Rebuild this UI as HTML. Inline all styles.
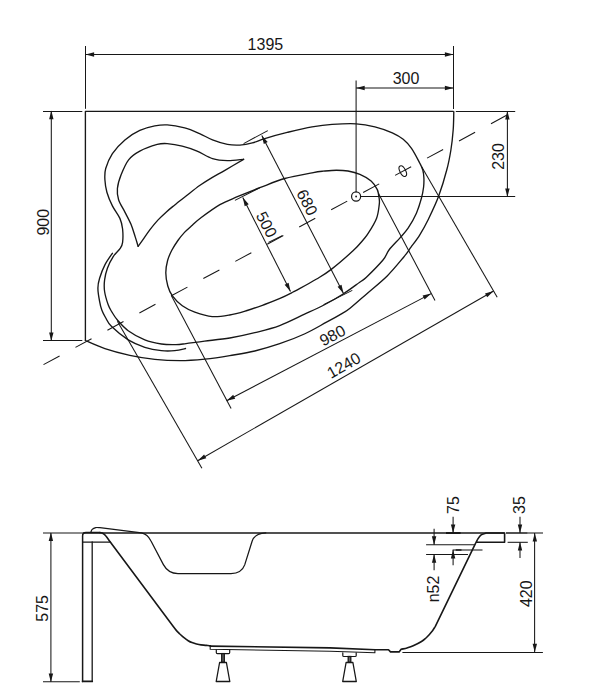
<!DOCTYPE html>
<html><head><meta charset="utf-8"><title>Bathtub drawing</title>
<style>html,body{margin:0;padding:0;background:#fff}body{width:602px;height:693px;overflow:hidden}svg{display:block}text{font-family:"Liberation Sans",sans-serif}</style>
</head><body>
<svg width="602" height="693" viewBox="0 0 602 693">
<rect width="602" height="693" fill="#fff"/>
<path d="M85.4 340.5 L85.4 111.3 L453.3 111.3" fill="none" stroke="#171717" stroke-width="1.35" stroke-linecap="round" stroke-linejoin="round" />
<path d="M453.8 111.6 C453.7 114.6 453.7 123.4 453.2 129.8 C452.7 136.2 452.0 143.3 450.9 150.0 C449.8 156.7 448.9 162.1 446.8 169.8 C444.8 177.5 441.7 187.9 438.6 196.3 C435.5 204.7 431.1 213.6 428.0 220.0 C424.9 226.4 422.6 230.3 419.8 234.8 C417.0 239.3 413.7 243.5 411.0 247.2 C408.3 250.9 407.6 252.4 403.6 257.2 C399.6 262.0 393.3 269.9 387.2 275.9 C381.1 281.9 373.4 288.0 367.2 293.4 C361.0 298.8 354.1 305.0 350.0 308.3 C345.9 311.6 346.2 311.0 342.3 313.3 C338.4 315.6 332.8 318.8 326.5 322.2 C320.2 325.6 312.2 330.4 304.4 334.0 C296.6 337.6 288.0 340.9 279.7 343.7 C271.4 346.5 263.1 349.0 254.8 351.0 C246.5 353.0 238.1 354.2 229.8 355.6 C221.5 357.0 213.2 358.3 204.9 359.1 C196.6 359.9 188.3 360.6 180.0 360.6 C171.7 360.6 163.2 360.2 154.8 359.3 C146.4 358.4 138.1 357.1 129.8 355.3 C121.5 353.5 112.3 351.1 104.9 348.6 C97.5 346.1 88.7 341.9 85.4 340.5" fill="none" stroke="#171717" stroke-width="1.35" stroke-linecap="round" stroke-linejoin="round" />
<path d="M239.9 145.1 C235.8 145.3 232.0 145.3 227.4 144.4 C222.8 143.5 217.1 141.7 212.5 139.9 C207.9 138.1 204.2 135.6 199.6 133.6 C195.0 131.6 190.1 129.3 184.7 127.9 C179.3 126.5 172.2 125.2 167.2 124.9 C162.2 124.6 159.4 125.0 154.8 125.9 C150.2 126.8 144.8 128.1 139.8 130.4 C134.8 132.7 129.5 136.0 124.9 139.9 C120.3 143.8 115.6 148.8 112.4 153.6 C109.2 158.4 107.0 164.2 105.7 168.5 C104.5 172.8 104.7 175.8 104.9 179.7 C105.1 183.6 105.7 187.8 106.9 192.2 C108.2 196.6 110.2 201.5 112.4 205.9 C114.6 210.3 118.2 214.6 119.9 218.4 C121.6 222.2 122.1 225.0 122.6 229.0 C123.0 233.0 123.0 239.1 122.6 242.3 C122.2 245.5 121.8 246.0 120.2 248.4 C118.6 250.8 115.3 253.3 113.2 256.6 C111.1 259.9 108.8 264.3 107.4 268.2 C106.0 272.1 105.1 275.9 104.6 279.8 C104.1 283.7 104.0 287.3 104.6 291.5 C105.2 295.7 107.0 301.4 108.2 304.8 C109.4 308.2 110.5 309.7 112.0 312.2 C113.5 314.7 114.7 316.9 117.4 320.0 C120.1 323.1 123.6 327.4 128.2 330.7 C132.8 334.0 139.3 337.7 144.8 339.9 C150.3 342.1 156.2 343.2 161.4 344.0 C166.6 344.8 171.9 344.7 176.0 344.6 C180.1 344.5 181.2 344.2 186.0 343.6 C190.8 343.0 197.3 342.0 204.6 341.1 C211.9 340.2 221.4 339.4 229.8 338.0 C238.2 336.6 246.5 334.8 254.8 332.7 C263.1 330.6 271.4 328.7 279.7 325.6 C288.0 322.5 297.1 317.7 304.6 314.2 C312.1 310.7 318.4 307.9 324.9 304.5 C331.4 301.1 337.7 297.4 343.5 293.7 C349.3 290.0 355.9 284.9 359.7 282.2 C363.5 279.4 362.5 280.9 366.4 277.2 C370.3 273.5 379.2 264.5 383.0 260.0 C386.8 255.5 386.2 253.7 389.0 250.0 C391.8 246.3 396.6 241.7 399.8 238.1 C403.0 234.5 405.3 232.3 408.1 228.2 C410.9 224.0 414.2 218.2 416.4 213.2 C418.6 208.2 420.2 202.7 421.4 198.3 C422.6 193.9 423.2 190.4 423.6 187.0 C424.0 183.6 424.0 180.8 423.9 178.0 C423.8 175.2 423.5 172.5 422.8 170.0 C422.1 167.5 421.7 166.8 419.8 163.2 C417.9 159.6 414.3 152.4 411.5 148.4 C408.7 144.4 406.4 141.9 403.2 139.3 C400.0 136.7 397.0 134.9 392.3 132.8 C387.6 130.7 380.9 128.3 374.9 126.8 C368.9 125.3 363.3 124.2 356.2 123.8 C349.1 123.4 339.5 123.9 332.1 124.4 C324.8 124.9 319.6 125.6 312.1 126.9 C304.6 128.2 295.1 130.5 287.2 132.4 C279.3 134.3 270.6 136.8 264.8 138.6 C259.0 140.3 256.4 141.8 252.3 142.9 C248.2 144.0 244.1 144.8 239.9 145.1Z" fill="none" stroke="#171717" stroke-width="1.35" stroke-linecap="round" stroke-linejoin="round" />
<path d="M112.4 253.3 C111.2 255.2 107.0 260.8 104.9 264.9 C102.8 269.0 100.8 274.3 99.6 278.2 C98.4 282.1 97.9 284.2 97.9 288.1 C97.9 292.0 98.9 297.8 99.6 301.4 C100.2 305.0 100.8 307.3 101.8 310.0 C102.8 312.7 103.9 314.7 105.5 317.5 C107.1 320.3 107.8 322.9 111.6 326.6 C115.4 330.3 122.7 336.4 128.2 339.9 C133.7 343.3 139.3 345.5 144.8 347.3 C150.3 349.1 156.4 350.1 161.4 350.6 C166.4 351.2 170.7 351.0 174.7 350.6 C178.7 350.2 183.7 348.9 185.5 348.5" fill="none" stroke="#171717" stroke-width="1.35" stroke-linecap="round" stroke-linejoin="round" />
<path d="M243.6 159.3 C240.9 159.5 232.6 160.7 227.4 160.6 C222.2 160.5 217.6 160.2 212.5 158.6 C207.4 157.0 202.2 153.2 197.1 151.1 C192.0 149.0 187.2 147.3 182.2 146.1 C177.2 144.8 171.4 143.9 167.2 143.6 C163.0 143.3 161.8 143.2 157.2 144.4 C152.6 145.7 144.6 148.5 139.8 151.1 C135.0 153.7 131.7 155.9 128.6 159.8 C125.5 163.8 123.0 170.0 121.1 174.8 C119.2 179.6 117.8 184.3 117.4 188.5 C117.0 192.7 117.3 195.8 118.6 199.7 C119.8 203.6 122.8 207.9 124.9 212.1 C127.0 216.2 129.4 220.4 131.1 224.6 C132.8 228.8 134.1 233.5 135.3 237.1 C136.5 240.7 137.6 244.8 138.1 246.3" fill="none" stroke="#171717" stroke-width="1.35" stroke-linecap="round" stroke-linejoin="round" />
<path d="M138.1 246.3 C139.0 245.1 141.6 241.5 143.5 238.8 C145.4 236.1 147.4 233.1 149.8 229.9 C152.2 226.8 155.3 222.9 158.1 219.9 C160.9 216.9 163.6 214.4 166.4 211.9 C169.2 209.4 171.5 207.6 174.8 204.9 C178.1 202.2 182.2 199.1 186.4 195.8 C190.6 192.5 195.7 188.3 200.0 185.3 C204.3 182.3 207.8 180.1 212.0 177.6 C216.2 175.1 219.6 173.4 224.9 170.3 C230.2 167.2 240.5 161.1 243.6 159.3" fill="none" stroke="#171717" stroke-width="1.35" stroke-linecap="round" stroke-linejoin="round" />
<path d="M200.0 218.5 C204.6 215.1 213.7 208.3 219.9 204.7 C226.1 201.1 230.8 199.5 237.4 196.7 C244.1 193.9 251.9 190.7 259.8 187.7 C267.7 184.7 276.0 181.0 284.7 178.5 C293.4 176.0 305.7 174.0 312.1 172.8 C318.5 171.6 318.9 171.6 323.0 171.2 C327.1 170.8 332.2 170.2 336.4 170.2 C340.6 170.2 344.1 170.3 348.0 171.0 C351.9 171.7 356.0 172.7 359.9 174.3 C363.8 176.0 368.2 178.4 371.1 180.9 C374.0 183.4 375.9 186.5 377.3 189.6 C378.7 192.7 379.0 196.9 379.3 199.5 C379.6 202.1 379.6 201.8 379.2 204.9 C378.8 208.0 378.4 213.5 376.6 218.2 C374.8 222.9 370.6 229.6 368.3 233.2 C366.1 236.8 365.6 237.1 363.1 240.0 C360.6 242.9 358.6 245.7 353.3 250.5 C348.1 255.3 337.7 264.4 331.6 269.1 C325.5 273.9 321.9 275.8 316.6 279.0 C311.3 282.2 304.2 286.1 300.0 288.4 C295.8 290.7 294.9 291.1 291.6 292.8 C288.3 294.5 284.5 296.4 280.0 298.4 C275.5 300.3 270.1 302.5 264.6 304.5 C259.1 306.5 252.9 308.8 247.1 310.5 C241.3 312.2 235.5 314.0 229.7 315.0 C223.9 316.0 218.0 317.1 212.2 316.6 C206.4 316.1 199.8 313.9 194.8 312.1 C189.8 310.3 186.0 308.5 182.3 305.8 C178.6 303.1 174.8 299.2 172.4 295.9 C170.0 292.6 168.9 289.9 167.8 286.0 C166.7 282.1 165.8 277.1 165.8 272.8 C165.8 268.6 166.6 264.2 167.6 260.5 C168.6 256.8 170.1 253.6 171.8 250.3 C173.5 247.0 175.8 243.5 177.9 240.5 C180.0 237.5 182.1 235.0 184.5 232.4 C186.9 229.8 189.7 227.5 192.3 225.2 C194.9 222.9 195.4 221.9 200.0 218.5Z" fill="none" stroke="#171717" stroke-width="1.35" stroke-linecap="round" stroke-linejoin="round" />
<line x1="43.5" y1="364.6" x2="507.2" y2="115.0" stroke="#171717" stroke-width="1.05" stroke-dasharray="18.25 18.05"/>
<circle cx="356.1" cy="196.5" r="4.55" fill="#fff" stroke="#171717" stroke-width="1.2"/>
<circle cx="356.1" cy="196.5" r="0.9" fill="#171717"/>
<ellipse cx="402.8" cy="171.1" rx="5.8" ry="2.8" fill="none" stroke="#171717" stroke-width="1.1" transform="rotate(62 402.8 171.1)"/>
<line x1="85.5" y1="46.0" x2="85.5" y2="108.8" stroke="#171717" stroke-width="1.05" />
<line x1="453.5" y1="46.0" x2="453.5" y2="109.0" stroke="#171717" stroke-width="1.05" />
<line x1="85.5" y1="54.5" x2="453.5" y2="54.5" stroke="#171717" stroke-width="1.05" />
<polygon points="85.5,54.5 94.1,52.3 94.1,56.7" fill="#171717"/>
<polygon points="453.5,54.5 444.9,56.7 444.9,52.3" fill="#171717"/>
<text x="0" y="0" font-size="16" text-anchor="middle" fill="#171717" transform="translate(265.4 44.5) rotate(0.0)" dy="0.358em">1395</text>
<line x1="356.1" y1="80.5" x2="356.1" y2="192.3" stroke="#171717" stroke-width="1.05" />
<line x1="356.1" y1="88.0" x2="453.5" y2="88.0" stroke="#171717" stroke-width="1.05" />
<polygon points="356.1,88.0 364.7,85.8 364.7,90.2" fill="#171717"/>
<polygon points="453.5,88.0 444.9,90.2 444.9,85.8" fill="#171717"/>
<text x="0" y="0" font-size="16" text-anchor="middle" fill="#171717" transform="translate(406.0 78.7) rotate(0.0)" dy="0.358em">300</text>
<line x1="43.0" y1="111.5" x2="82.3" y2="111.5" stroke="#171717" stroke-width="1.05" />
<line x1="43.0" y1="340.5" x2="82.3" y2="340.5" stroke="#171717" stroke-width="1.05" />
<line x1="51.3" y1="111.3" x2="51.3" y2="340.5" stroke="#171717" stroke-width="1.05" />
<polygon points="51.3,110.6 53.5,119.2 49.1,119.2" fill="#171717"/>
<polygon points="51.3,341.0 49.1,332.4 53.5,332.4" fill="#171717"/>
<text x="0" y="0" font-size="16" text-anchor="middle" fill="#171717" transform="translate(43.1 222.2) rotate(-90.0)" dy="0.358em">900</text>
<line x1="455.8" y1="111.5" x2="515.2" y2="111.5" stroke="#171717" stroke-width="1.05" />
<line x1="360.3" y1="196.5" x2="515.2" y2="196.5" stroke="#171717" stroke-width="1.05" />
<line x1="507.4" y1="111.3" x2="507.4" y2="196.5" stroke="#171717" stroke-width="1.05" />
<polygon points="507.4,110.8 509.6,119.4 505.2,119.4" fill="#171717"/>
<polygon points="507.4,197.0 505.2,188.4 509.6,188.4" fill="#171717"/>
<text x="0" y="0" font-size="16" text-anchor="middle" fill="#171717" transform="translate(498.5 156.5) rotate(-90.0)" dy="0.358em">230</text>
<line x1="261.8" y1="135.4" x2="343.5" y2="293.4" stroke="#171717" stroke-width="1.05" />
<polygon points="261.8,135.4 267.7,142.0 263.8,144.1" fill="#171717"/>
<polygon points="343.5,293.4 337.6,286.8 341.5,284.7" fill="#171717"/>
<line x1="243.6" y1="143.6" x2="267.8" y2="130.6" stroke="#171717" stroke-width="1.05" />
<line x1="323.6" y1="304.6" x2="352.3" y2="290.4" stroke="#171717" stroke-width="1.05" />
<text x="0" y="0" font-size="16" text-anchor="middle" fill="#171717" transform="translate(307.3 202.3) rotate(62.7)" dy="0.358em">680</text>
<line x1="242.8" y1="197.6" x2="290.5" y2="291.4" stroke="#171717" stroke-width="1.05" />
<polygon points="242.8,197.6 248.7,204.3 244.7,206.3" fill="#171717"/>
<polygon points="290.5,291.4 284.6,284.7 288.6,282.7" fill="#171717"/>
<line x1="234.9" y1="200.4" x2="259.8" y2="187.7" stroke="#171717" stroke-width="1.05" />
<line x1="268.4" y1="242.4" x2="282.2" y2="235.8" stroke="#171717" stroke-width="1.05" />
<text x="0" y="0" font-size="16" text-anchor="middle" fill="#171717" transform="translate(266.7 224.5) rotate(62.7)" dy="0.358em">500</text>
<line x1="171.2" y1="295.3" x2="231.1" y2="408.5" stroke="#171717" stroke-width="1.05" />
<line x1="378.5" y1="193.5" x2="435.0" y2="300.4" stroke="#171717" stroke-width="1.05" />
<line x1="226.6" y1="400.7" x2="431.2" y2="293.6" stroke="#171717" stroke-width="1.05" />
<polygon points="226.6,400.7 233.2,394.8 235.2,398.7" fill="#171717"/>
<polygon points="431.2,293.6 424.6,299.5 422.6,295.6" fill="#171717"/>
<text x="0" y="0" font-size="16" text-anchor="middle" fill="#171717" transform="translate(332.4 335.3) rotate(-27.4)" dy="0.358em">980</text>
<line x1="117.4" y1="321.2" x2="201.9" y2="468.3" stroke="#171717" stroke-width="1.05" />
<line x1="421.8" y1="167.0" x2="497.2" y2="297.3" stroke="#171717" stroke-width="1.05" />
<line x1="197.7" y1="460.7" x2="493.6" y2="291.0" stroke="#171717" stroke-width="1.05" />
<polygon points="197.7,460.7 204.1,454.5 206.3,458.3" fill="#171717"/>
<polygon points="493.6,291.0 487.2,297.2 485.0,293.4" fill="#171717"/>
<text x="0" y="0" font-size="16" text-anchor="middle" fill="#171717" transform="translate(343.6 365.2) rotate(-29.8)" dy="0.358em">1240</text>
<line x1="43.0" y1="533.0" x2="83.0" y2="533.0" stroke="#171717" stroke-width="1.05" />
<line x1="83.0" y1="533.0" x2="504.5" y2="533.0" stroke="#171717" stroke-width="1.5" />
<line x1="506.0" y1="533.0" x2="527.7" y2="533.0" stroke="#171717" stroke-width="1.5" />
<line x1="527.7" y1="533.0" x2="543.0" y2="533.0" stroke="#171717" stroke-width="1.05" />
<path d="M82.6 681.4 L82.6 536 Q82.6 532.6 86 532.6 L99.9 532.6" fill="none" stroke="#171717" stroke-width="1.5" stroke-linecap="round" stroke-linejoin="round" />
<path d="M82.6 681.4 L92.2 681.4" fill="none" stroke="#171717" stroke-width="1.8" stroke-linecap="round" stroke-linejoin="round" />
<path d="M92.2 542 L92.2 681.4" fill="none" stroke="#171717" stroke-width="1.3" stroke-linecap="round" stroke-linejoin="round" />
<path d="M82.6 542.1 L110.2 542.1" fill="none" stroke="#171717" stroke-width="1.3" stroke-linecap="round" stroke-linejoin="round" />
<path d="M99.9 532.6 C100.4 532.8 102.0 533.0 103.0 533.5 C104.0 534.0 104.5 534.4 105.7 535.8 C106.9 537.1 109.2 540.6 109.9 541.6 L173.3 626.6 C173.8 627.3 175.4 629.4 176.5 630.6 C177.6 631.8 178.7 632.8 179.9 634.0 C181.2 635.2 182.6 636.6 184.0 637.7 C185.4 638.8 186.9 639.9 188.2 640.7 C189.5 641.5 190.6 642.1 192.0 642.6 C193.4 643.1 195.0 643.6 196.5 644.0 C198.0 644.4 199.3 644.7 201.0 644.9 C202.7 645.1 204.9 645.2 206.5 645.4 C208.1 645.6 209.8 645.8 210.4 645.9" fill="none" stroke="#171717" stroke-width="1.6" stroke-linecap="round" stroke-linejoin="round" />
<path d="M90.8 532.4 C91.0 531.9 91.4 530.2 92.2 529.4 C93.0 528.6 94.5 527.9 95.8 527.6 C97.1 527.3 99.2 527.7 99.9 527.7 L141.4 532.8 C146.5 533.7 149 536.8 151 541 L163.4 564.6 C166 569.4 170 573.5 178 573.5 L231 573.5 C238 573.5 242.5 571 244.7 564.9 L252.1 541.2 C253.8 536 257.5 533.2 265.8 532.8" fill="none" stroke="#171717" stroke-width="1.25" stroke-linecap="round" stroke-linejoin="round" />
<path d="M210.2 646.1 L330 647.9 L375.2 649.7 L388.5 649.7 L390.5 651.9 L399.1 651.9 L401.1 649.3 C402.1 649.0 405.0 648.6 407.0 648.0 C409.0 647.4 410.8 646.9 413.2 645.8 C415.6 644.7 419.4 642.8 421.5 641.5 C423.6 640.2 424.6 639.2 426.0 638.0 C427.4 636.8 428.7 635.2 429.8 634.0 C430.9 632.8 431.8 631.7 432.7 630.5 C433.6 629.3 434.8 627.2 435.2 626.6 L475.4 543.6 C475.8 542.9 476.6 541.0 477.5 539.6 C478.4 538.2 479.4 536.2 480.8 535.1 C482.2 534.0 485.2 533.4 486.1 533.0 L504.6 533 L504.6 542.3 L476.6 542.3" fill="none" stroke="#171717" stroke-width="1.6" stroke-linecap="round" stroke-linejoin="round" />
<path d="M210.2 646.1 L210.2 649.3 L330 651.3 L374.9 652.7 L374.9 649.9" fill="none" stroke="#171717" stroke-width="1.1" stroke-linecap="round" stroke-linejoin="round" />
<path d="M216.3 649.9 L216.3 652.5 Q216.3 653.6 217.4 653.6 L228.6 653.6 Q229.7 653.6 229.7 652.5 L229.7 649.9" fill="none" stroke="#171717" stroke-width="1.2" stroke-linecap="round" stroke-linejoin="round" />
<rect x="221.7" y="653.6" width="2.6" height="8.7" fill="#666" stroke="#171717" stroke-width="1.3"/>
<path d="M219.6 662.5 L226.4 662.5 L229.8 681.5 L216.2 681.5 Z" fill="none" stroke="#171717" stroke-width="1.3" stroke-linecap="round" stroke-linejoin="round" />
<path d="M342.8 652.8 L342.8 655.4 Q342.8 656.5 343.9 656.5 L355.1 656.5 Q356.2 656.5 356.2 655.4 L356.2 652.8" fill="none" stroke="#171717" stroke-width="1.2" stroke-linecap="round" stroke-linejoin="round" />
<rect x="348.2" y="656.5" width="2.6" height="5.8" fill="#666" stroke="#171717" stroke-width="1.3"/>
<path d="M346.1 662.5 L352.9 662.5 L356.3 681.5 L342.7 681.5 Z" fill="none" stroke="#171717" stroke-width="1.3" stroke-linecap="round" stroke-linejoin="round" />
<line x1="43.0" y1="681.8" x2="79.8" y2="681.8" stroke="#171717" stroke-width="1.05" />
<line x1="50.9" y1="533.0" x2="50.9" y2="681.8" stroke="#171717" stroke-width="1.05" />
<polygon points="50.9,532.5 53.1,541.1 48.7,541.1" fill="#171717"/>
<polygon points="50.9,682.2 48.7,673.6 53.1,673.6" fill="#171717"/>
<text x="0" y="0" font-size="16" text-anchor="middle" fill="#171717" transform="translate(42.1 608.4) rotate(-90.0)" dy="0.358em">575</text>
<line x1="402.4" y1="652.5" x2="542.9" y2="652.5" stroke="#171717" stroke-width="1.05" />
<line x1="534.6" y1="533.0" x2="534.6" y2="652.0" stroke="#171717" stroke-width="1.05" />
<polygon points="534.8,533.0 537.0,541.6 532.6,541.6" fill="#171717"/>
<polygon points="534.8,652.3 532.6,643.7 537.0,643.7" fill="#171717"/>
<text x="0" y="0" font-size="16" text-anchor="middle" fill="#171717" transform="translate(526.3 593.7) rotate(-90.0)" dy="0.358em">420</text>
<line x1="520.0" y1="516.8" x2="520.0" y2="533.0" stroke="#171717" stroke-width="1.05" />
<polygon points="520.0,533.0 517.8,524.4 522.2,524.4" fill="#171717"/>
<line x1="507.6" y1="542.3" x2="527.8" y2="542.3" stroke="#171717" stroke-width="1.05" />
<line x1="520.0" y1="542.3" x2="520.0" y2="558.0" stroke="#171717" stroke-width="1.05" />
<polygon points="520.0,542.0 522.2,550.6 517.8,550.6" fill="#171717"/>
<text x="0" y="0" font-size="16" text-anchor="middle" fill="#171717" transform="translate(519.6 505.0) rotate(-90.0)" dy="0.358em">35</text>
<line x1="453.1" y1="516.8" x2="453.1" y2="533.0" stroke="#171717" stroke-width="1.05" />
<polygon points="453.1,533.0 450.9,524.4 455.3,524.4" fill="#171717"/>
<line x1="452.6" y1="550.0" x2="482.5" y2="550.0" stroke="#171717" stroke-width="1.05" />
<line x1="455.7" y1="550.0" x2="461.5" y2="550.0" stroke="#171717" stroke-width="1.5" />
<line x1="453.1" y1="550.0" x2="453.1" y2="565.3" stroke="#171717" stroke-width="1.05" />
<polygon points="453.1,549.8 455.3,558.4 450.9,558.4" fill="#171717"/>
<line x1="446.0" y1="533.0" x2="460.6" y2="533.0" stroke="#171717" stroke-width="1.9" />
<text x="0" y="0" font-size="16" text-anchor="middle" fill="#171717" transform="translate(453.6 505.0) rotate(-90.0)" dy="0.358em">75</text>
<line x1="434.1" y1="528.8" x2="434.1" y2="544.7" stroke="#171717" stroke-width="1.05" />
<polygon points="434.1,544.9 431.9,536.3 436.3,536.3" fill="#171717"/>
<line x1="426.1" y1="544.7" x2="474.5" y2="544.7" stroke="#171717" stroke-width="1.05" />
<line x1="426.1" y1="554.4" x2="468.0" y2="554.4" stroke="#171717" stroke-width="1.05" />
<line x1="434.1" y1="554.4" x2="434.1" y2="570.3" stroke="#171717" stroke-width="1.05" />
<polygon points="434.1,554.2 436.3,562.8 431.9,562.8" fill="#171717"/>
<text x="0" y="0" font-size="16" text-anchor="middle" fill="#171717" transform="translate(433.2 589.0) rotate(-90.0)" dy="0.358em">n52</text>
</svg>
</body></html>
